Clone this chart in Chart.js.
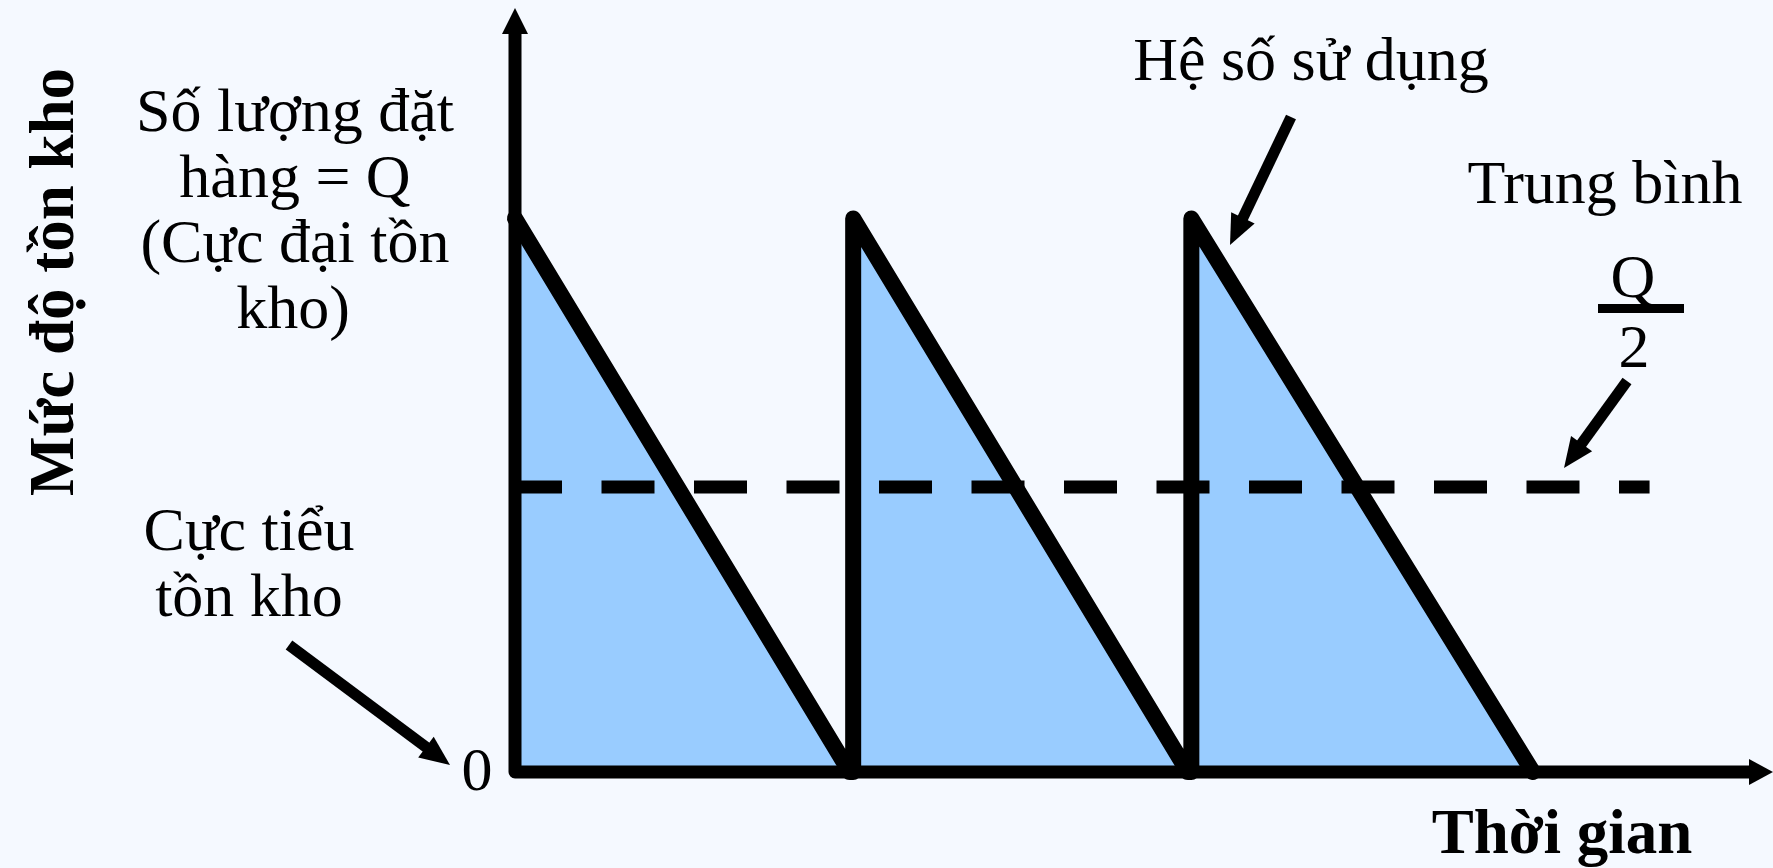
<!DOCTYPE html>
<html>
<head>
<meta charset="utf-8">
<script src="https://cdn.jsdelivr.net/npm/chart.js@4"></script>
<style>
  html, body { margin: 0; padding: 0; background: #f5f9ff; }
  #wrap { width: 1773px; height: 868px; }
</style>
</head>
<body>
<div id="wrap"><canvas id="chartTonKho" width="1773" height="868"></canvas></div>
<script>
// du lieu doc tu hinh (don vi: chu ky dat hang, muc ton kho theo Q)
const thoiGian = [0, 0.99, 1, 1, 1.99, 2, 2, 3.01];
const tonKho   = [1, 0, 0, 1, 0, 0, 1, 0];
const trungBinhX = [0, 3.355];
const trungBinhY = [0.515, 0.515];
const xMax = 3.72;
const yMax = 1.38;

const FONT = '"Liberation Serif", "Times New Roman", serif';

function muiTen(ctx, x1, y1, x2, y2, w, dai, rong) {
  const a = Math.atan2(y2 - y1, x2 - x1);
  const bx = x2 - Math.cos(a) * dai, by = y2 - Math.sin(a) * dai;
  ctx.save();
  ctx.strokeStyle = "#000";
  ctx.fillStyle = "#000";
  ctx.lineWidth = w;
  ctx.lineCap = "butt";
  ctx.beginPath();
  ctx.moveTo(x1, y1);
  ctx.lineTo(bx + Math.cos(a) * 2, by + Math.sin(a) * 2);
  ctx.stroke();
  ctx.beginPath();
  ctx.moveTo(x2, y2);
  ctx.lineTo(bx + Math.sin(a) * rong, by - Math.cos(a) * rong);
  ctx.lineTo(bx - Math.sin(a) * rong, by + Math.cos(a) * rong);
  ctx.closePath();
  ctx.fill();
  ctx.restore();
}

function chu(ctx, text, x, y, font) {
  ctx.font = font;
  ctx.fillText(text, x, y);
}

// ve nen, truc va cac chu thich
const nenPlugin = {
  id: "nen",
  beforeDraw(chart) {
    const ctx = chart.ctx;
    ctx.save();
    ctx.fillStyle = "#f5f9ff";
    ctx.fillRect(0, 0, chart.width, chart.height);
    ctx.restore();
  }
};

const trucPlugin = {
  id: "truc",
  afterDatasetsDraw(chart) {
    const ctx = chart.ctx;
    const xs = chart.scales.x, ys = chart.scales.y;
    const x0 = xs.getPixelForValue(0), y0 = ys.getPixelForValue(0);
    const top = ys.getPixelForValue(yMax), right = xs.getPixelForValue(xMax);
    ctx.save();
    ctx.strokeStyle = "#000";
    ctx.fillStyle = "#000";
    ctx.lineWidth = 13;
    ctx.lineJoin = "round";
    ctx.beginPath();
    ctx.moveTo(x0, top + 26);
    ctx.lineTo(x0, y0);
    ctx.lineTo(right - 24, y0);
    ctx.stroke();
    // mui ten truc tung
    ctx.beginPath();
    ctx.moveTo(x0, top);
    ctx.lineTo(x0 - 13, top + 26);
    ctx.lineTo(x0 + 13, top + 26);
    ctx.closePath();
    ctx.fill();
    // mui ten truc hoanh
    ctx.beginPath();
    ctx.moveTo(right, y0);
    ctx.lineTo(right - 24, y0 - 13);
    ctx.lineTo(right - 24, y0 + 13);
    ctx.closePath();
    ctx.fill();
    ctx.restore();
  },
  afterDraw(chart) {
    const ctx = chart.ctx;
    ctx.save();
    ctx.fillStyle = "#000";
    ctx.textAlign = "center";
    ctx.textBaseline = "alphabetic";
    const thuong = "62px " + FONT;
    const dam = "bold 63px " + FONT;

    chu(ctx, "Số lượng đặt", 295, 131, thuong);
    chu(ctx, "hàng = Q", 295, 197, thuong);
    chu(ctx, "(Cực đại tồn", 295, 262, thuong);
    chu(ctx, "kho)", 293, 328, thuong);

    chu(ctx, "Cực tiểu", 249, 550, thuong);
    chu(ctx, "tồn kho", 249, 616, thuong);
    chu(ctx, "0", 477, 790, thuong);

    chu(ctx, "Hệ số sử dụng", 1311, 80, thuong);
    chu(ctx, "Trung bình", 1605, 203, thuong);
    chu(ctx, "Q", 1633, 297, thuong);
    chu(ctx, "2", 1634, 367, thuong);
    ctx.fillRect(1598, 304, 86, 9);

    chu(ctx, "Thời gian", 1562, 853, dam);

    ctx.save();
    ctx.translate(73, 282);
    ctx.rotate(-Math.PI / 2);
    chu(ctx, "Mức độ tồn kho", 0, 0, dam);
    ctx.restore();

    muiTen(ctx, 289, 645, 450, 765, 11, 30, 13);
    muiTen(ctx, 1291, 117, 1230, 245, 11, 30, 13);
    muiTen(ctx, 1627, 381, 1564, 468, 11, 30, 13);
    ctx.restore();
  }
};

const ctx = document.getElementById("chartTonKho").getContext("2d");

const chart = new Chart(ctx, {
  type: "scatter",
  data: {
    datasets: [
      {
        label: "Trung bình Q/2",
        data: trungBinhX.map((x, i) => ({ x: x, y: trungBinhY[i] })),
        showLine: true,
        borderColor: "#000",
        borderWidth: 13,
        borderDash: [53, 39.5],
        borderDashOffset: 6,
        borderCapStyle: "butt",
        pointRadius: 0,
        fill: false,
        clip: false
      },
      {
        label: "Mức độ tồn kho",
        data: thoiGian.map((x, i) => ({ x: x, y: tonKho[i] })),
        showLine: true,
        borderColor: "#000",
        backgroundColor: "#99ccff",
        borderWidth: 16,
        borderJoinStyle: "round",
        borderCapStyle: "round",
        pointRadius: 0,
        tension: 0,
        fill: "origin",
        clip: false
      }
    ]
  },
  options: {
    responsive: false,
    devicePixelRatio: 1,
    animation: false,
    layout: { padding: { left: 515, right: 0, top: 8, bottom: 96 } },
    plugins: {
      legend: { display: false },
      tooltip: { enabled: false },
      title: { display: false }
    },
    scales: {
      x: { type: "linear", min: 0, max: xMax, display: false },
      y: { type: "linear", min: 0, max: yMax, display: false }
    }
  },
  plugins: [nenPlugin, trucPlugin]
});
</script>
</body>
</html>
